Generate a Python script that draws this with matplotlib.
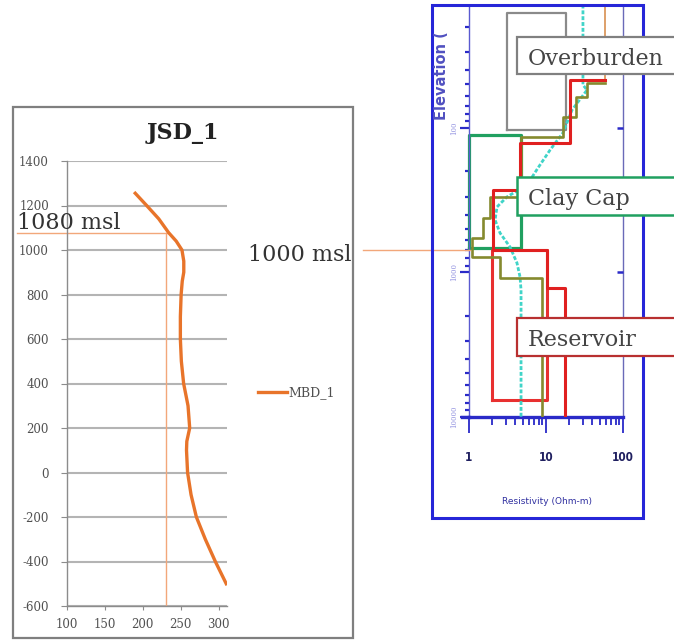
import matplotlib
matplotlib.use('Agg')
import matplotlib.pyplot as plt
from matplotlib.patches import Rectangle
from matplotlib.lines import Line2D
from matplotlib.ticker import LogLocator, NullFormatter, NullLocator

plt.rcParams['axes.unicode_minus'] = False
plt.rcParams['font.family'] = ['DejaVu Serif']

# ---------------- data: left chart (JSD_1) ----------------
mbd_value = [190, 205, 221, 234, 244, 251.6, 254, 254, 252, 250.5, 249.5, 249.5,
             250.8, 253.8, 259.6, 261.8, 258, 257.6, 259, 263.6, 270.6, 282.4, 295.6, 310]
mbd_elev = [1255, 1200, 1140, 1078, 1040, 1000, 950, 900, 860, 800, 700, 600,
            500, 400, 300, 200, 140, 100, 0, -100, -200, -300, -400, -500]
ref_value = 231
ref_elev = 1078
left_xticks = [100, 150, 200, 250, 300]
left_yticks = [-600, -400, -200, 0, 200, 400, 600, 800, 1000, 1200, 1400]

# ---------------- data: right chart (1D resistivity models) ----------------
red_rho = [58.4, 20.5, 20.5, 4.6, 4.6, 2.05, 2.05, 10.3, 10.3, 17.6, 17.6]
red_depth = [46.5, 46.5, 127, 127, 269, 269, 699, 699, 1280, 1280, 10000]

olive_rho = [58.4, 34.1, 34.1, 24.5, 24.5, 16.6, 16.6, 4.74, 4.74, 1.87, 1.87,
             1.52, 1.52, 1.09, 1.09, 2.53, 2.53, 8.87, 8.87]
olive_depth = [48.9, 48.9, 61, 61, 83.9, 83.9, 115, 115, 300, 300, 420,
               420, 577, 577, 781, 781, 1092, 1092, 10000]

cyan_rho = [30.2, 30.2, 34.1, 21.8, 16.6, 11.3, 7.87, 5.66, 3.11, 2.31, 2.18,
            2.53, 3.41, 4.20, 4.60, 4.74, 4.74]
cyan_depth = [14, 50.4, 54.6, 75, 108, 142, 189, 248, 300, 352, 433,
              533, 666, 860, 1074, 1321, 10000]

top_rho = [58.4, 58.4]
top_depth = [14, 46.5]

# zones: (rho_min, rho_max, depth_top, depth_bottom)
overburden_zone = (3.11, 18.2, 16.0, 103)
claycap_zone = (1.0, 4.8, 112, 681)
reservoir_zone = (1.99, 10.3, 699, 7630)

right_xticks = [1, 10, 100]
right_xlabels = ['1', '10', '100']
right_yticks = [100, 1000, 10000]
right_ylabels = ['100', '1000', '10000']

# ---------------- figure ----------------
W, H = 674, 640
fig = plt.figure(figsize=(W / 100, H / 100), dpi=100)


def fx(x):
    return x / W


def fy(y):
    return 1 - y / H


# ===== left chart =====
ax1 = fig.add_axes([fx(67), fy(606), (227 - 67) / W, (606 - 161) / H])
ax1.set_xlim(100, 311)
ax1.set_ylim(-600, 1400)
ax1.plot(mbd_value, mbd_elev, color='#e8742a', lw=2.4, label='MBD_1', zorder=3)
ax1.plot([ref_value, ref_value], [-600, ref_elev], color='#f2a77a', lw=1, zorder=2)
ax1.plot([34, 234], [ref_elev, ref_elev], color='#f2a77a', lw=1, clip_on=False, zorder=2)
ax1.set_xticks(left_xticks)
ax1.set_yticks(left_yticks)
ax1.grid(axis='y', color='#b4b4b4', lw=1.5)
ax1.set_axisbelow(True)
for s in ['top', 'right']:
    ax1.spines[s].set_visible(False)
for s in ['left', 'bottom']:
    ax1.spines[s].set_color('#8c8c8c')
    ax1.spines[s].set_linewidth(1)
ax1.tick_params(axis='x', direction='out', length=3, color='#8c8c8c', labelsize=8.5,
                labelcolor='#505050', pad=6)
ax1.tick_params(axis='y', direction='out', length=4, color='#8c8c8c', labelsize=8.5,
                labelcolor='#505050', pad=9)
ax1.legend(loc='center left', bbox_to_anchor=(fx(258), fy(393)), bbox_transform=fig.transFigure,
           frameon=False, fontsize=9, handlelength=2.3, handletextpad=0.15,
           borderpad=0, borderaxespad=0, labelcolor='#505050')

fig.text(fx(183), fy(133), 'JSD_1', ha='center', va='center', fontsize=16,
         fontweight='bold', color='#222222', zorder=6)
fig.text(fx(17), fy(229), '1080 msl', ha='left', va='baseline', fontsize=16,
         color='#333333', zorder=6)
fig.text(fx(248), fy(261), '1000 msl', ha='left', va='baseline', fontsize=16,
         color='#333333', zorder=6)
fig.add_artist(Line2D([fx(363), fx(470)], [fy(249.5), fy(249.5)], transform=fig.transFigure,
                      color='#f2a77a', lw=1, zorder=3))

# left panel frame
fig.add_artist(Rectangle((fx(13), fy(638)), (353 - 13) / W, (638 - 107) / H,
                         transform=fig.transFigure, fill=False, edgecolor='#7f7f7f',
                         lw=1.6, zorder=4))

# ===== right chart =====
ax2 = fig.add_axes([fx(469), fy(417), (623 - 469) / W, (417 - 5) / H])
ax2.set_xscale('log')
ax2.set_yscale('log')
ax2.set_xlim(1, 100)
ax2.set_ylim(10000, 14.1)

zc = '#20a060'
r0, r1, d0, d1 = claycap_zone
ax2.plot([r0, r0, r1, r1, r0], [d1, d0, d0, d1, d1], color=zc, lw=2.3, zorder=2, clip_on=False)
r0, r1, d0, d1 = overburden_zone
ax2.plot([r0, r0, r1, r1, r0], [d1, d0, d0, d1, d1], color='#8a8a8a', lw=1.6, zorder=2)
r0, r1, d0, d1 = reservoir_zone
ax2.plot([r0, r0, r1, r1, r0], [d1, d0, d0, d1, d1], color='#e83030', lw=2.2, zorder=2)

ax2.plot(cyan_rho, cyan_depth, color='#40d4c8', lw=2.0, ls=(0, (1.4, 0.7)), zorder=3)
ax2.plot(olive_rho, olive_depth, color='#858a2e', lw=1.9, zorder=3)
ax2.plot(red_rho, red_depth, color='#e02020', lw=2.2, zorder=4)
ax2.plot(top_rho, top_depth, color='#d89050', lw=1.2, zorder=3)

blue = '#2a2ac8'
ax2.spines['top'].set_visible(False)
ax2.spines['left'].set_color('#5a5ad0')
ax2.spines['left'].set_linewidth(1.0)
ax2.spines['right'].set_color('#6a6ab8')
ax2.spines['right'].set_linewidth(1.0)
ax2.spines['bottom'].set_color(blue)
ax2.spines['bottom'].set_linewidth(2.4)

ax2.set_xticks(right_xticks, labels=right_xlabels)
ax2.xaxis.set_minor_locator(LogLocator(base=10, subs=range(2, 10)))
ax2.xaxis.set_minor_formatter(NullFormatter())
ax2.set_yticks(right_yticks, labels=right_ylabels)
ax2.yaxis.set_minor_locator(LogLocator(base=10, subs=range(2, 10)))
ax2.yaxis.set_minor_formatter(NullFormatter())
ax2.tick_params(axis='x', which='major', direction='out', length=11.5, width=1.3, color=blue,
                labelsize=8.5, labelcolor='#202060', pad=13)
ax2.tick_params(axis='x', which='minor', direction='out', length=6, width=1.3, color=blue)
ax2.tick_params(axis='y', which='major', direction='out', length=6.5, width=1.6, color=blue,
                labelsize=5, labelcolor='#9090e0', labelrotation=90, pad=1.5)
ax2.tick_params(axis='y', which='minor', direction='out', length=3, width=1.6, color=blue)
for lab in ax2.get_yticklabels():
    lab.set_va('center')
for lab in ax2.get_xticklabels():
    lab.set_fontfamily(['DejaVu Sans'])
    lab.set_fontstretch('condensed')
    lab.set_fontweight('bold')

ax2r = ax2.twinx()
ax2r.set_yscale('log')
ax2r.set_ylim(10000, 14.1)
ax2r.set_yticks(right_yticks)
ax2r.yaxis.set_minor_locator(NullLocator())
ax2r.tick_params(axis='y', which='major', direction='in', length=4.5, width=1.8, color=blue,
                 labelright=False)
for s in ax2r.spines.values():
    s.set_visible(False)

# bottom axis extension to the left
fig.add_artist(Line2D([fx(462), fx(469)], [fy(417), fy(417)], transform=fig.transFigure,
                      color=blue, lw=2.4, zorder=3))

fig.text(fx(547), fy(501), 'Resistivity (Ohm-m)', ha='center', va='center', fontsize=6.5,
         color='#3030a0', family=['DejaVu Sans'], zorder=6)
fig.text(fx(441), fy(120), 'Elevation (', ha='center', va='bottom', rotation=90,
         fontsize=10.5, fontweight='bold', color='#5050c0', family=['DejaVu Sans'], zorder=6)

# blue frame
fig.add_artist(Rectangle((fx(432), fy(518)), (643 - 432) / W, (518 - 5) / H,
                         transform=fig.transFigure, fill=False, edgecolor='#2626d8',
                         lw=2.2, zorder=4))


# label boxes
def label_box(y0, y1, edge, lw, text, baseline):
    fig.add_artist(Rectangle((fx(517), fy(y1)), (690 - 517) / W, (y1 - y0) / H,
                             transform=fig.transFigure, facecolor='white', edgecolor=edge,
                             lw=lw, zorder=5, clip_on=False))
    fig.text(fx(528), fy(baseline), text, ha='left', va='baseline', fontsize=16,
             color='#444444', zorder=6)


label_box(37, 74, '#808080', 1.6, 'Overburden', 65)
label_box(177, 215, zc, 1.8, 'Clay Cap', 205)
label_box(318, 356, '#b83030', 1.6, 'Reservoir', 346)

fig.savefig('out.png', dpi=100)
